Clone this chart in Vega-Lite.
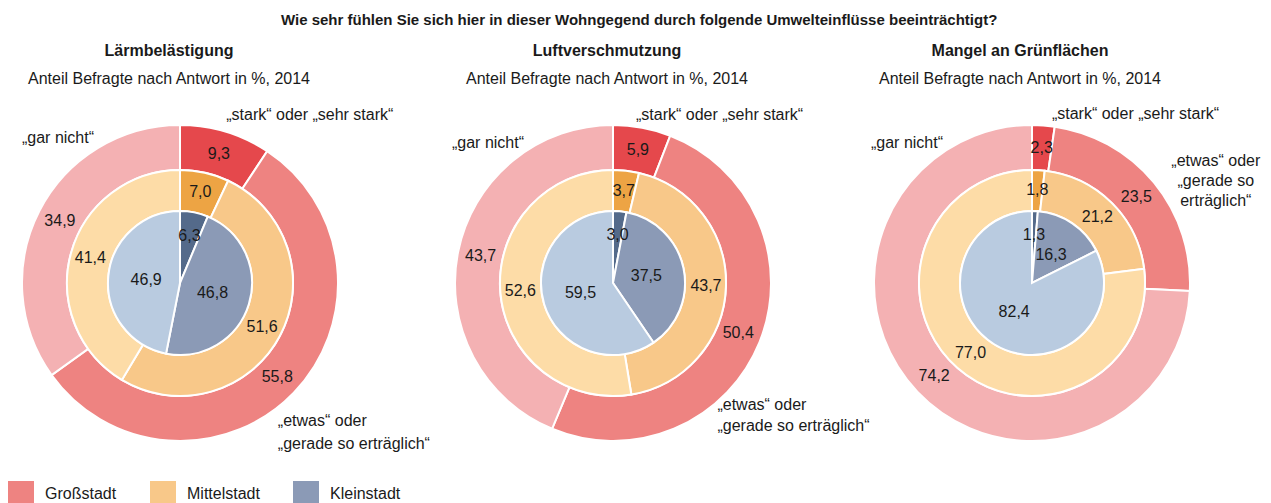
{
  "$schema": "https://vega.github.io/schema/vega-lite/v6.json",
  "padding": {"top": 13, "left": 0, "right": 0, "bottom": 0},
  "background": "white",
  "bounds": "flush",
  "spacing": 0,
  "title": {"text": "Wie sehr fühlen Sie sich hier in dieser Wohngegend durch folgende Umwelteinflüsse beeinträchtigt?", "fontSize": 15, "fontWeight": "bold", "anchor": "middle", "dx": 9, "offset": 15, "color": "#1a1a1a", "font": "Liberation Sans"},
  "data": {"values": [
    {"panel": "Lärmbelästigung", "city": "Großstadt", "answer": "stark", "rank": 1, "value": 9.3},
    {"panel": "Lärmbelästigung", "city": "Großstadt", "answer": "etwas", "rank": 2, "value": 55.8},
    {"panel": "Lärmbelästigung", "city": "Großstadt", "answer": "gar nicht", "rank": 3, "value": 34.9},
    {"panel": "Lärmbelästigung", "city": "Mittelstadt", "answer": "stark", "rank": 1, "value": 7.0},
    {"panel": "Lärmbelästigung", "city": "Mittelstadt", "answer": "etwas", "rank": 2, "value": 51.6},
    {"panel": "Lärmbelästigung", "city": "Mittelstadt", "answer": "gar nicht", "rank": 3, "value": 41.4},
    {"panel": "Lärmbelästigung", "city": "Kleinstadt", "answer": "stark", "rank": 1, "value": 6.3},
    {"panel": "Lärmbelästigung", "city": "Kleinstadt", "answer": "etwas", "rank": 2, "value": 46.8},
    {"panel": "Lärmbelästigung", "city": "Kleinstadt", "answer": "gar nicht", "rank": 3, "value": 46.9},
    {"panel": "Luftverschmutzung", "city": "Großstadt", "answer": "stark", "rank": 1, "value": 5.9},
    {"panel": "Luftverschmutzung", "city": "Großstadt", "answer": "etwas", "rank": 2, "value": 50.4},
    {"panel": "Luftverschmutzung", "city": "Großstadt", "answer": "gar nicht", "rank": 3, "value": 43.7},
    {"panel": "Luftverschmutzung", "city": "Mittelstadt", "answer": "stark", "rank": 1, "value": 3.7},
    {"panel": "Luftverschmutzung", "city": "Mittelstadt", "answer": "etwas", "rank": 2, "value": 43.7},
    {"panel": "Luftverschmutzung", "city": "Mittelstadt", "answer": "gar nicht", "rank": 3, "value": 52.6},
    {"panel": "Luftverschmutzung", "city": "Kleinstadt", "answer": "stark", "rank": 1, "value": 3.0},
    {"panel": "Luftverschmutzung", "city": "Kleinstadt", "answer": "etwas", "rank": 2, "value": 37.5},
    {"panel": "Luftverschmutzung", "city": "Kleinstadt", "answer": "gar nicht", "rank": 3, "value": 59.5},
    {"panel": "Mangel an Grünflächen", "city": "Großstadt", "answer": "stark", "rank": 1, "value": 2.3},
    {"panel": "Mangel an Grünflächen", "city": "Großstadt", "answer": "etwas", "rank": 2, "value": 23.5},
    {"panel": "Mangel an Grünflächen", "city": "Großstadt", "answer": "gar nicht", "rank": 3, "value": 74.2},
    {"panel": "Mangel an Grünflächen", "city": "Mittelstadt", "answer": "stark", "rank": 1, "value": 1.8},
    {"panel": "Mangel an Grünflächen", "city": "Mittelstadt", "answer": "etwas", "rank": 2, "value": 21.2},
    {"panel": "Mangel an Grünflächen", "city": "Mittelstadt", "answer": "gar nicht", "rank": 3, "value": 77.0},
    {"panel": "Mangel an Grünflächen", "city": "Kleinstadt", "answer": "stark", "rank": 1, "value": 1.3},
    {"panel": "Mangel an Grünflächen", "city": "Kleinstadt", "answer": "etwas", "rank": 2, "value": 16.3},
    {"panel": "Mangel an Grünflächen", "city": "Kleinstadt", "answer": "gar nicht", "rank": 3, "value": 82.4}
  ]},
  "hconcat": [
    {
      "width": 360, "height": 360,
      "title": {"text": "Lärmbelästigung", "subtitle": "Anteil Befragte nach Antwort in %, 2014", "dx": -11},
      "transform": [{"filter": "datum.panel === 'Lärmbelästigung'"}],
      "resolve": {"scale": {"color": "independent"}},
      "layer": [
        {"transform": [{"filter": "datum.city === 'Großstadt'"}], "mark": {"type": "arc", "outerRadius": 158, "innerRadius": 113, "stroke": "white", "strokeWidth": 2}, "encoding": {"theta": {"field": "value", "type": "quantitative", "stack": true}, "order": {"field": "rank", "type": "quantitative"}, "color": {"field": "answer", "type": "nominal", "scale": {"domain": ["stark", "etwas", "gar nicht"], "range": ["#e5484c", "#ee8381", "#f4b1b3"]}, "legend": null}}},
        {"transform": [{"filter": "datum.city === 'Mittelstadt'"}], "mark": {"type": "arc", "outerRadius": 113, "innerRadius": 72, "stroke": "white", "strokeWidth": 2}, "encoding": {"theta": {"field": "value", "type": "quantitative", "stack": true}, "order": {"field": "rank", "type": "quantitative"}, "color": {"field": "answer", "type": "nominal", "scale": {"domain": ["stark", "etwas", "gar nicht"], "range": ["#eda444", "#f8c889", "#fddca7"]}, "legend": null}}},
        {"transform": [{"filter": "datum.city === 'Kleinstadt'"}], "mark": {"type": "arc", "outerRadius": 72, "innerRadius": 0, "stroke": "white", "strokeWidth": 2}, "encoding": {"theta": {"field": "value", "type": "quantitative", "stack": true}, "order": {"field": "rank", "type": "quantitative"}, "color": {"field": "answer", "type": "nominal", "scale": {"domain": ["stark", "etwas", "gar nicht"], "range": ["#546a8a", "#8b9ab6", "#b9cbe0"]}, "legend": null}}},
        {"transform": [{"filter": "datum.city === 'Großstadt'"}], "mark": {"type": "text", "radius": 135}, "encoding": {"theta": {"field": "value", "type": "quantitative", "stack": true}, "order": {"field": "rank", "type": "quantitative"}, "detail": {"field": "answer", "type": "nominal"}, "text": {"field": "value", "type": "quantitative", "format": ".1f"}}},
        {"transform": [{"filter": "datum.city === 'Mittelstadt'"}], "mark": {"type": "text", "radius": 93}, "encoding": {"theta": {"field": "value", "type": "quantitative", "stack": true}, "order": {"field": "rank", "type": "quantitative"}, "detail": {"field": "answer", "type": "nominal"}, "text": {"field": "value", "type": "quantitative", "format": ".1f"}}},
        {"transform": [{"filter": "datum.city === 'Kleinstadt'"}], "mark": {"type": "text", "radius": 48}, "encoding": {"theta": {"field": "value", "type": "quantitative", "stack": true}, "order": {"field": "rank", "type": "quantitative"}, "detail": {"field": "answer", "type": "nominal"}, "text": {"condition": {"test": "datum.answer === 'stark'", "field": "value", "type": "quantitative", "format": ".1f"}, "value": ""}}},
        {"transform": [{"filter": "datum.city === 'Kleinstadt'"}], "mark": {"type": "text", "radius": 34}, "encoding": {"theta": {"field": "value", "type": "quantitative", "stack": true}, "order": {"field": "rank", "type": "quantitative"}, "detail": {"field": "answer", "type": "nominal"}, "text": {"condition": {"test": "datum.answer !== 'stark'", "field": "value", "type": "quantitative", "format": ".1f"}, "value": ""}}},
        {"transform": [{"filter": "datum.city === 'Großstadt'"}, {"stack": "value", "groupby": [], "sort": [{"field": "rank", "order": "ascending"}], "as": ["v0", "v1"]}, {"filter": "datum.answer === 'stark'"}], "mark": {"type": "text", "radius": 170, "dx": 36, "dy": -26}, "encoding": {"theta": {"field": "v1", "type": "quantitative", "stack": null}, "text": {"value": "„stark“ oder „sehr stark“"}}},
        {"transform": [{"filter": "datum.city === 'Großstadt'"}, {"stack": "value", "groupby": [], "sort": [{"field": "rank", "order": "ascending"}], "as": ["v0", "v1"]}, {"filter": "datum.answer === 'gar nicht'"}], "mark": {"type": "text", "radius": 170, "dx": -122, "dy": 25}, "encoding": {"theta": {"field": "v1", "type": "quantitative", "stack": null}, "text": {"value": "„gar nicht“"}}},
        {"transform": [{"filter": "datum.city === 'Großstadt'"}, {"stack": "value", "groupby": [], "sort": [{"field": "rank", "order": "ascending"}], "as": ["v0", "v1"]}, {"filter": "datum.answer === 'etwas'"}], "mark": {"type": "text", "radius": 170, "dx": 236, "dy": 39, "align": "left", "lineHeight": 23}, "encoding": {"theta": {"field": "v1", "type": "quantitative", "stack": null}, "text": {"value": ["„etwas“ oder", "„gerade so erträglich“"]}}},
        {"transform": [{"filter": "datum.answer === 'stark'"}], "mark": {"type": "arc", "outerRadius": 0, "innerRadius": 0}, "encoding": {"theta": {"field": "value", "type": "quantitative", "stack": true}, "color": {"field": "city", "type": "nominal", "scale": {"domain": ["Großstadt", "Mittelstadt", "Kleinstadt"], "range": ["#ee8381", "#f8c889", "#8b9ab6"]}, "legend": {"orient": "none", "legendX": 8, "legendY": 378, "direction": "horizontal", "title": null, "padding": 0, "symbolType": "square", "symbolSize": 676, "symbolStrokeWidth": 0, "symbolOpacity": 1, "labelFontSize": 16, "labelFont": "Liberation Sans", "labelColor": "#1a1a1a", "labelOffset": 11, "columnPadding": 33}}}}
      ]
    },
    {
      "width": 506, "height": 360,
      "title": {"text": "Luftverschmutzung", "subtitle": "Anteil Befragte nach Antwort in %, 2014", "dx": -6},
      "transform": [{"filter": "datum.panel === 'Luftverschmutzung'"}],
      "resolve": {"scale": {"color": "independent"}},
      "layer": [
        {"transform": [{"filter": "datum.city === 'Großstadt'"}], "mark": {"type": "arc", "outerRadius": 158, "innerRadius": 113, "stroke": "white", "strokeWidth": 2}, "encoding": {"theta": {"field": "value", "type": "quantitative", "stack": true}, "order": {"field": "rank", "type": "quantitative"}, "color": {"field": "answer", "type": "nominal", "scale": {"domain": ["stark", "etwas", "gar nicht"], "range": ["#e5484c", "#ee8381", "#f4b1b3"]}, "legend": null}}},
        {"transform": [{"filter": "datum.city === 'Mittelstadt'"}], "mark": {"type": "arc", "outerRadius": 113, "innerRadius": 72, "stroke": "white", "strokeWidth": 2}, "encoding": {"theta": {"field": "value", "type": "quantitative", "stack": true}, "order": {"field": "rank", "type": "quantitative"}, "color": {"field": "answer", "type": "nominal", "scale": {"domain": ["stark", "etwas", "gar nicht"], "range": ["#eda444", "#f8c889", "#fddca7"]}, "legend": null}}},
        {"transform": [{"filter": "datum.city === 'Kleinstadt'"}], "mark": {"type": "arc", "outerRadius": 72, "innerRadius": 0, "stroke": "white", "strokeWidth": 2}, "encoding": {"theta": {"field": "value", "type": "quantitative", "stack": true}, "order": {"field": "rank", "type": "quantitative"}, "color": {"field": "answer", "type": "nominal", "scale": {"domain": ["stark", "etwas", "gar nicht"], "range": ["#546a8a", "#8b9ab6", "#b9cbe0"]}, "legend": null}}},
        {"transform": [{"filter": "datum.city === 'Großstadt'"}], "mark": {"type": "text", "radius": 135}, "encoding": {"theta": {"field": "value", "type": "quantitative", "stack": true}, "order": {"field": "rank", "type": "quantitative"}, "detail": {"field": "answer", "type": "nominal"}, "text": {"field": "value", "type": "quantitative", "format": ".1f"}}},
        {"transform": [{"filter": "datum.city === 'Mittelstadt'"}], "mark": {"type": "text", "radius": 93}, "encoding": {"theta": {"field": "value", "type": "quantitative", "stack": true}, "order": {"field": "rank", "type": "quantitative"}, "detail": {"field": "answer", "type": "nominal"}, "text": {"field": "value", "type": "quantitative", "format": ".1f"}}},
        {"transform": [{"filter": "datum.city === 'Kleinstadt'"}], "mark": {"type": "text", "radius": 48}, "encoding": {"theta": {"field": "value", "type": "quantitative", "stack": true}, "order": {"field": "rank", "type": "quantitative"}, "detail": {"field": "answer", "type": "nominal"}, "text": {"condition": {"test": "datum.answer === 'stark'", "field": "value", "type": "quantitative", "format": ".1f"}, "value": ""}}},
        {"transform": [{"filter": "datum.city === 'Kleinstadt'"}], "mark": {"type": "text", "radius": 34}, "encoding": {"theta": {"field": "value", "type": "quantitative", "stack": true}, "order": {"field": "rank", "type": "quantitative"}, "detail": {"field": "answer", "type": "nominal"}, "text": {"condition": {"test": "datum.answer !== 'stark'", "field": "value", "type": "quantitative", "format": ".1f"}, "value": ""}}},
        {"transform": [{"filter": "datum.city === 'Großstadt'"}, {"stack": "value", "groupby": [], "sort": [{"field": "rank", "order": "ascending"}], "as": ["v0", "v1"]}, {"filter": "datum.answer === 'stark'"}], "mark": {"type": "text", "radius": 170, "dx": 45, "dy": -10}, "encoding": {"theta": {"field": "v1", "type": "quantitative", "stack": null}, "text": {"value": "„stark“ oder „sehr stark“"}}},
        {"transform": [{"filter": "datum.city === 'Großstadt'"}, {"stack": "value", "groupby": [], "sort": [{"field": "rank", "order": "ascending"}], "as": ["v0", "v1"]}, {"filter": "datum.answer === 'gar nicht'"}], "mark": {"type": "text", "radius": 170, "dx": -125, "dy": 30}, "encoding": {"theta": {"field": "v1", "type": "quantitative", "stack": null}, "text": {"value": "„gar nicht“"}}},
        {"transform": [{"filter": "datum.city === 'Großstadt'"}, {"stack": "value", "groupby": [], "sort": [{"field": "rank", "order": "ascending"}], "as": ["v0", "v1"]}, {"filter": "datum.answer === 'etwas'"}], "mark": {"type": "text", "radius": 170, "dx": 170, "dy": -35, "align": "left", "lineHeight": 21}, "encoding": {"theta": {"field": "v1", "type": "quantitative", "stack": null}, "text": {"value": ["„etwas“ oder", "„gerade so erträglich“"]}}}
      ]
    },
    {
      "width": 332, "height": 360,
      "title": {"text": "Mangel an Grünflächen", "subtitle": "Anteil Befragte nach Antwort in %, 2014", "dx": -12},
      "transform": [{"filter": "datum.panel === 'Mangel an Grünflächen'"}],
      "resolve": {"scale": {"color": "independent"}},
      "layer": [
        {"transform": [{"filter": "datum.city === 'Großstadt'"}], "mark": {"type": "arc", "outerRadius": 158, "innerRadius": 113, "stroke": "white", "strokeWidth": 2}, "encoding": {"theta": {"field": "value", "type": "quantitative", "stack": true}, "order": {"field": "rank", "type": "quantitative"}, "color": {"field": "answer", "type": "nominal", "scale": {"domain": ["stark", "etwas", "gar nicht"], "range": ["#e5484c", "#ee8381", "#f4b1b3"]}, "legend": null}}},
        {"transform": [{"filter": "datum.city === 'Mittelstadt'"}], "mark": {"type": "arc", "outerRadius": 113, "innerRadius": 72, "stroke": "white", "strokeWidth": 2}, "encoding": {"theta": {"field": "value", "type": "quantitative", "stack": true}, "order": {"field": "rank", "type": "quantitative"}, "color": {"field": "answer", "type": "nominal", "scale": {"domain": ["stark", "etwas", "gar nicht"], "range": ["#eda444", "#f8c889", "#fddca7"]}, "legend": null}}},
        {"transform": [{"filter": "datum.city === 'Kleinstadt'"}], "mark": {"type": "arc", "outerRadius": 72, "innerRadius": 0, "stroke": "white", "strokeWidth": 2}, "encoding": {"theta": {"field": "value", "type": "quantitative", "stack": true}, "order": {"field": "rank", "type": "quantitative"}, "color": {"field": "answer", "type": "nominal", "scale": {"domain": ["stark", "etwas", "gar nicht"], "range": ["#546a8a", "#8b9ab6", "#b9cbe0"]}, "legend": null}}},
        {"transform": [{"filter": "datum.city === 'Großstadt'"}], "mark": {"type": "text", "radius": 135}, "encoding": {"theta": {"field": "value", "type": "quantitative", "stack": true}, "order": {"field": "rank", "type": "quantitative"}, "detail": {"field": "answer", "type": "nominal"}, "text": {"field": "value", "type": "quantitative", "format": ".1f"}}},
        {"transform": [{"filter": "datum.city === 'Mittelstadt'"}], "mark": {"type": "text", "radius": 93}, "encoding": {"theta": {"field": "value", "type": "quantitative", "stack": true}, "order": {"field": "rank", "type": "quantitative"}, "detail": {"field": "answer", "type": "nominal"}, "text": {"field": "value", "type": "quantitative", "format": ".1f"}}},
        {"transform": [{"filter": "datum.city === 'Kleinstadt'"}], "mark": {"type": "text", "radius": 48}, "encoding": {"theta": {"field": "value", "type": "quantitative", "stack": true}, "order": {"field": "rank", "type": "quantitative"}, "detail": {"field": "answer", "type": "nominal"}, "text": {"condition": {"test": "datum.answer === 'stark'", "field": "value", "type": "quantitative", "format": ".1f"}, "value": ""}}},
        {"transform": [{"filter": "datum.city === 'Kleinstadt'"}], "mark": {"type": "text", "radius": 34}, "encoding": {"theta": {"field": "value", "type": "quantitative", "stack": true}, "order": {"field": "rank", "type": "quantitative"}, "detail": {"field": "answer", "type": "nominal"}, "text": {"condition": {"test": "datum.answer !== 'stark'", "field": "value", "type": "quantitative", "format": ".1f"}, "value": ""}}},
        {"transform": [{"filter": "datum.city === 'Großstadt'"}, {"stack": "value", "groupby": [], "sort": [{"field": "rank", "order": "ascending"}], "as": ["v0", "v1"]}, {"filter": "datum.answer === 'stark'"}], "mark": {"type": "text", "radius": 170, "dx": 79, "dy": -1}, "encoding": {"theta": {"field": "v1", "type": "quantitative", "stack": null}, "text": {"value": "„stark“ oder „sehr stark“"}}},
        {"transform": [{"filter": "datum.city === 'Großstadt'"}, {"stack": "value", "groupby": [], "sort": [{"field": "rank", "order": "ascending"}], "as": ["v0", "v1"]}, {"filter": "datum.answer === 'gar nicht'"}], "mark": {"type": "text", "radius": 170, "dx": -125, "dy": 30}, "encoding": {"theta": {"field": "v1", "type": "quantitative", "stack": null}, "text": {"value": "„gar nicht“"}}},
        {"transform": [{"filter": "datum.city === 'Großstadt'"}, {"stack": "value", "groupby": [], "sort": [{"field": "rank", "order": "ascending"}], "as": ["v0", "v1"]}, {"filter": "datum.answer === 'etwas'"}], "mark": {"type": "text", "radius": 170, "dx": 14, "dy": -131, "align": "center", "lineHeight": 20}, "encoding": {"theta": {"field": "v1", "type": "quantitative", "stack": null}, "text": {"value": ["„etwas“ oder", "„gerade so", "erträglich“"]}}}
      ]
    }
  ],
  "resolve": {"scale": {"color": "independent"}, "legend": {"color": "independent"}},
  "config": {
    "view": {"stroke": null},
    "locale": {"number": {"decimal": ",", "thousands": ".", "grouping": [3], "currency": ["", " €"]}},
    "font": "Liberation Sans",
    "title": {"fontSize": 16, "fontWeight": "bold", "color": "#1a1a1a", "subtitleFontSize": 16, "subtitleFont": "Liberation Sans", "subtitleColor": "#1a1a1a", "subtitlePadding": 12, "offset": 16, "anchor": "middle"},
    "text": {"font": "Liberation Sans", "fontSize": 16, "color": "#1a1a1a", "baseline": "middle"}
  }
}
